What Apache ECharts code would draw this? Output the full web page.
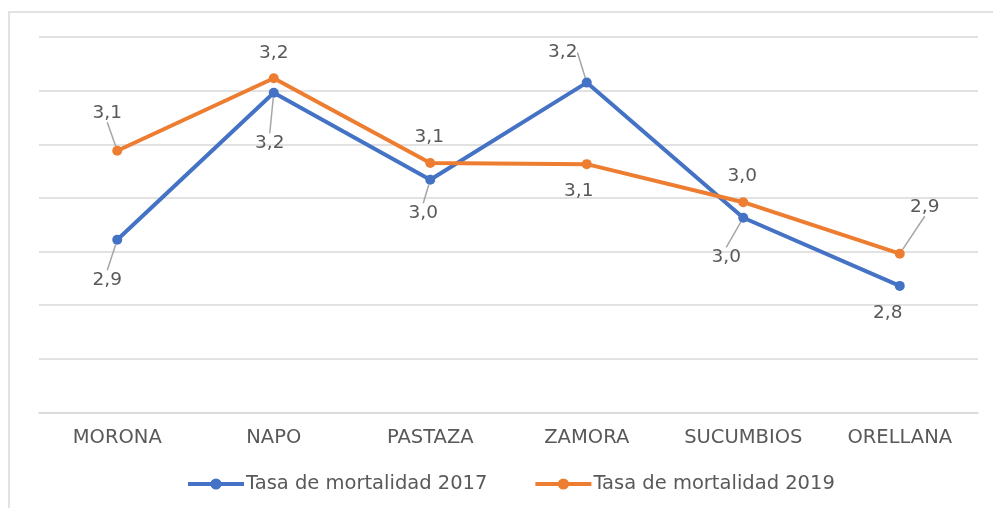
<!DOCTYPE html>
<html>
<head>
<meta charset="utf-8">
<script src="https://cdn.jsdelivr.net/npm/echarts@6/dist/echarts.min.js"></script>
<style>
html,body{margin:0;padding:0;background:#fff;}
#chart{width:993px;height:508px;}
</style>
</head>
<body>
<div id="chart"></div>
<script>
// Data
const categories = ['MORONA', 'NAPO', 'PASTAZA', 'ZAMORA', 'SUCUMBIOS', 'ORELLANA'];
const seriesNames = ['Tasa de mortalidad 2017', 'Tasa de mortalidad 2019'];
const tasa2017 = [2.922, 3.196, 3.034, 3.215, 2.963, 2.836];
const tasa2019 = [3.088, 3.223, 3.065, 3.063, 2.992, 2.896];
const yMin = 2.6, yMax = 3.3, yStep = 0.1;

// Label placement (style): offsets of label centre from the point, and whether a leader line is drawn
const labelOffsets = [
  [[-10, 40], [-4, 50], [-7, 33], [-24, -30], [-17, 39], [-12, 27]],
  [[-10, -38], [0, -25], [-1, -26], [-8, 27], [-1, -26], [25, -47]]
];
const leaderLines = [
  [true, true, true, true, true, false],
  [true, false, false, false, false, true]
];
const colors = ['#4472C4', '#ED7D31'];
const FONT = 'DejaVu Sans';
const TXT = '#595959';

function fmt(v) { return v.toFixed(1).replace('.', ','); }

function buildSeries(idx, values) {
  return {
    name: seriesNames[idx],
    type: 'line',
    data: values.map((v, i) => ({
      value: v,
      labelLine: { show: leaderLines[idx][i] }
    })),
    symbol: 'circle',
    symbolSize: 10,
    color: colors[idx],
    lineStyle: { width: 4, color: colors[idx] },
    itemStyle: { color: colors[idx] },
    label: {
      show: true,
      position: 'inside',
      formatter: p => fmt(p.value),
      fontFamily: FONT,
      fontSize: 18.5,
      color: TXT
    },
    labelLine: {
      show: true,
      lineStyle: { color: '#A6A6A6', width: 1.5 }
    },
    labelLayout: p => ({
      dx: labelOffsets[p.seriesIndex][p.dataIndex][0],
      dy: labelOffsets[p.seriesIndex][p.dataIndex][1],
      hideOverlap: false,
      moveOverlap: null
    }),
    animation: false,
    z: 2 + idx
  };
}

const chart = echarts.init(document.getElementById('chart'));
chart.setOption({
  animation: false,
  backgroundColor: '#fff',
  graphic: [{
    type: 'rect',
    shape: { x: 9, y: 12, width: 1010, height: 520 },
    style: { fill: 'none', stroke: '#D9D9D9', lineWidth: 1.5 },
    silent: true
  }],
  grid: { left: 39, right: 15, top: 37, bottom: 95.5 },
  xAxis: {
    type: 'category',
    data: categories,
    boundaryGap: true,
    axisLine: { show: true, lineStyle: { color: '#D9D9D9', width: 1.5 } },
    axisTick: { show: false },
    axisLabel: { fontFamily: FONT, fontSize: 19.5, color: TXT, margin: 15 }
  },
  yAxis: {
    type: 'value',
    min: yMin,
    max: yMax,
    interval: yStep,
    axisLine: { show: false },
    axisTick: { show: false },
    axisLabel: { show: false },
    splitLine: { lineStyle: { color: '#D9D9D9', width: 1.5 } }
  },
  legend: {
    left: 186,
    top: 474,
    padding: 0,
    itemWidth: 56,
    itemHeight: 14,
    itemGap: 46,
    lineStyle: { width: 4 },
    textStyle: { fontFamily: FONT, fontSize: 19.5, color: TXT, padding: [0, 0, 0, -3] },
    data: seriesNames
  },
  series: [buildSeries(0, tasa2017), buildSeries(1, tasa2019)]
});
</script>
</body>
</html>
